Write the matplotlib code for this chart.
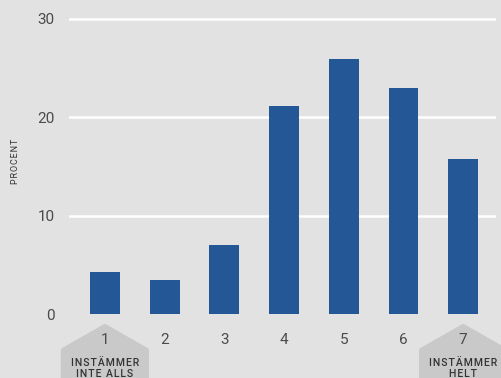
import matplotlib.pyplot as plt
from matplotlib.patches import Polygon

# Svarsfördelning på en sjugradig skala
scale_steps = [1, 2, 3, 4, 5, 6, 7]
percent = [4.3, 3.5, 7.0, 21.1, 25.9, 22.9, 15.7]
y_ticks = [0, 10, 20, 30]
end_labels = {1: ["INSTÄMMER", "INTE ALLS"], 7: ["INSTÄMMER", "HELT"]}

bg = "#e2e2e2"
bar_color = "#245796"
badge_color = "#c9c9c9"
text_color = "#4a4a4a"

plt.rcParams['font.family'] = ['Roboto', 'DejaVu Sans']


def spaced(s):
    # small tracking between letters
    return "\u200a".join(s)


fig = plt.figure(figsize=(5.02, 3.78), dpi=100, facecolor=bg)
ax = fig.add_axes([0.1375, 0.1693, 0.8506, 0.8078], facecolor=bg)

ax.set_xlim(0.4, 7.55)
ax.set_ylim(0, 31)

for y in y_ticks[1:]:
    ax.axhline(y, color="white", linewidth=1.8, zorder=1)

ax.bar(scale_steps, percent, width=0.5, color=bar_color, zorder=2)

for side in ax.spines.values():
    side.set_visible(False)
ax.tick_params(length=0, labelsize=11, colors=text_color)
ax.tick_params(axis='y', pad=10.5)
ax.tick_params(axis='x', pad=14)
ax.set_yticks(y_ticks)
ax.set_xticks(scale_steps)
ax.set_ylabel(spaced("PROCENT"), fontsize=6.5, color="#333333", labelpad=12)

# Hexagonal markers under the scale ends
fig.canvas.draw()
H = fig.bbox.height
to_data = ax.transData.inverted()
for step, lines in end_labels.items():
    cx = ax.transData.transform((step, 0))[0]
    half = 42
    pix = [(cx, H - 326), (cx + half, H - 350), (cx + half, -10),
           (cx - half, -10), (cx - half, H - 350)]
    pts = to_data.transform(pix)
    ax.add_patch(Polygon(pts, closed=True, facecolor=badge_color,
                         edgecolor=badge_color, linewidth=3, joinstyle='round',
                         clip_on=False, zorder=0.5))
    for i, line in enumerate(lines):
        fig.text(cx / fig.bbox.width, (H - 363 - 11 * i) / H, spaced(line),
                 ha='center', va='center', fontsize=7.5, fontweight='medium',
                 color="#333333")

fig.savefig("out.png", dpi=100, facecolor=bg)
